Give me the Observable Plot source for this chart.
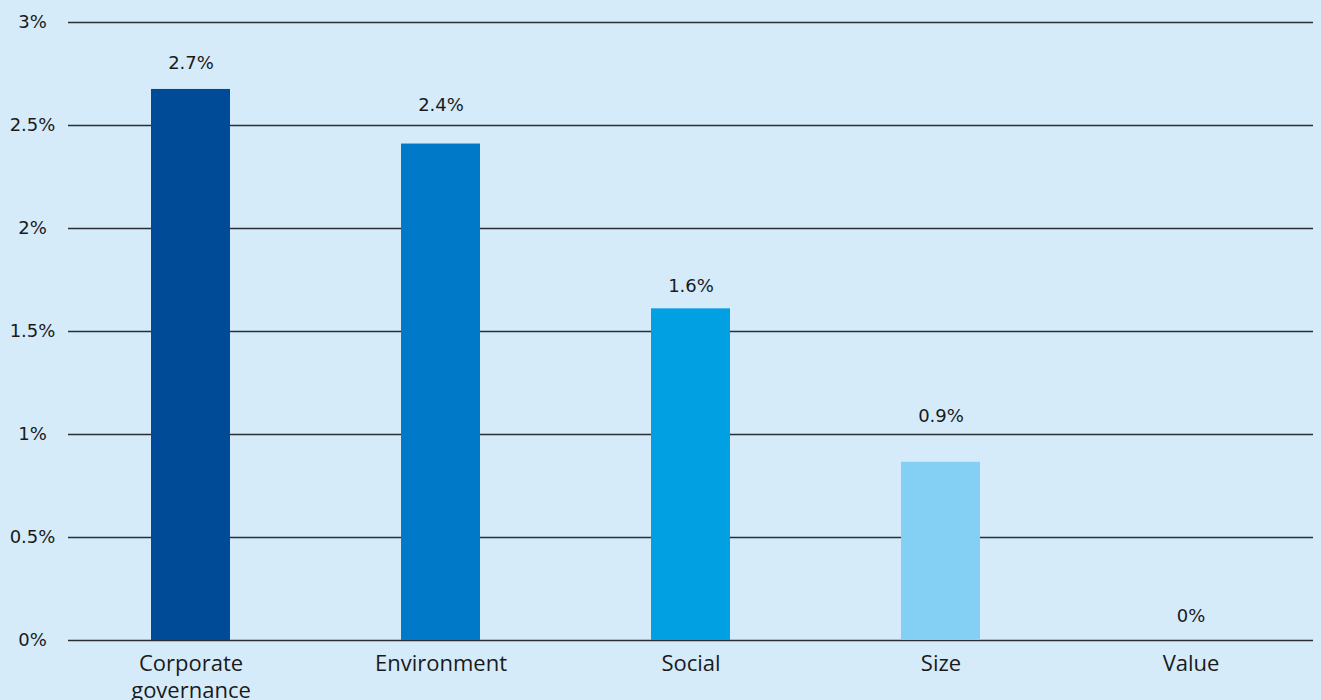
<!DOCTYPE html>
<html>
<head>
<meta charset="utf-8">
<script src="https://cdn.jsdelivr.net/npm/d3@7"></script>
<script src="https://cdn.jsdelivr.net/npm/@observablehq/plot@0.6"></script>
<style>
  html, body { margin: 0; padding: 0; background: #d5ebfa; }
  #chart svg { display: block; }
</style>
</head>
<body>
<div id="chart"></div>
<script>
const categories = ["Corporate governance", "Environment", "Social", "Size", "Value"];
const values = [2.675, 2.41, 1.61, 0.865, 0];
const labels = ["2.7%", "2.4%", "1.6%", "0.9%", "0%"];
const labelAt = [2.80, 2.60, 1.72, 1.09, 0.12];
const colors = ["#004b98", "#0079c8", "#00a0e3", "#84d0f5", "#84d0f5"];
const yTicks = [0, 0.5, 1, 1.5, 2, 2.5, 3];
const yTickLabels = ["0%", "0.5%", "1%", "1.5%", "2%", "2.5%", "3%"];
const catLabels = ["Corporate\ngovernance", "Environment", "Social", "Size", "Value"];

const data = categories.map((c, i) => ({cat: c, value: values[i], label: labels[i], labelAt: labelAt[i], color: colors[i]}));

const chart = Plot.plot({
  width: 1321,
  height: 700,
  marginLeft: 65,
  marginRight: 6,
  marginTop: 22,
  marginBottom: 60,
  style: {background: "#d5ebfa", color: "#1a1a1a"},
  x: {domain: categories, paddingInner: 0.684, paddingOuter: 0.342, label: null},
  y: {domain: [0, 3], label: null},
  marks: [
    Plot.ruleY(yTicks, {stroke: "#2b2f33", strokeWidth: 1.5, insetLeft: 3, insetRight: 2}),
    Plot.barY(data, {x: "cat", y: "value", fill: "color"}),
    Plot.text(data, {x: "cat", y: "labelAt", text: "label", fontSize: 18, fontFamily: "DejaVu Sans", fill: "#1a1a1a"}),
    Plot.axisY({ticks: yTicks, tickFormat: (d) => yTickLabels[yTicks.indexOf(d)], tickSize: 0, tickPadding: 33, textAnchor: "middle", fontSize: 18, fontFamily: "DejaVu Sans", label: null}),
    Plot.axisX({tickFormat: (d) => catLabels[categories.indexOf(d)], tickSize: 0, tickPadding: 12, fontSize: 22, fontFamily: "Open Sans", lineHeight: 1.2, label: null})
  ]
});
document.getElementById("chart").appendChild(chart);
</script>
</body>
</html>
